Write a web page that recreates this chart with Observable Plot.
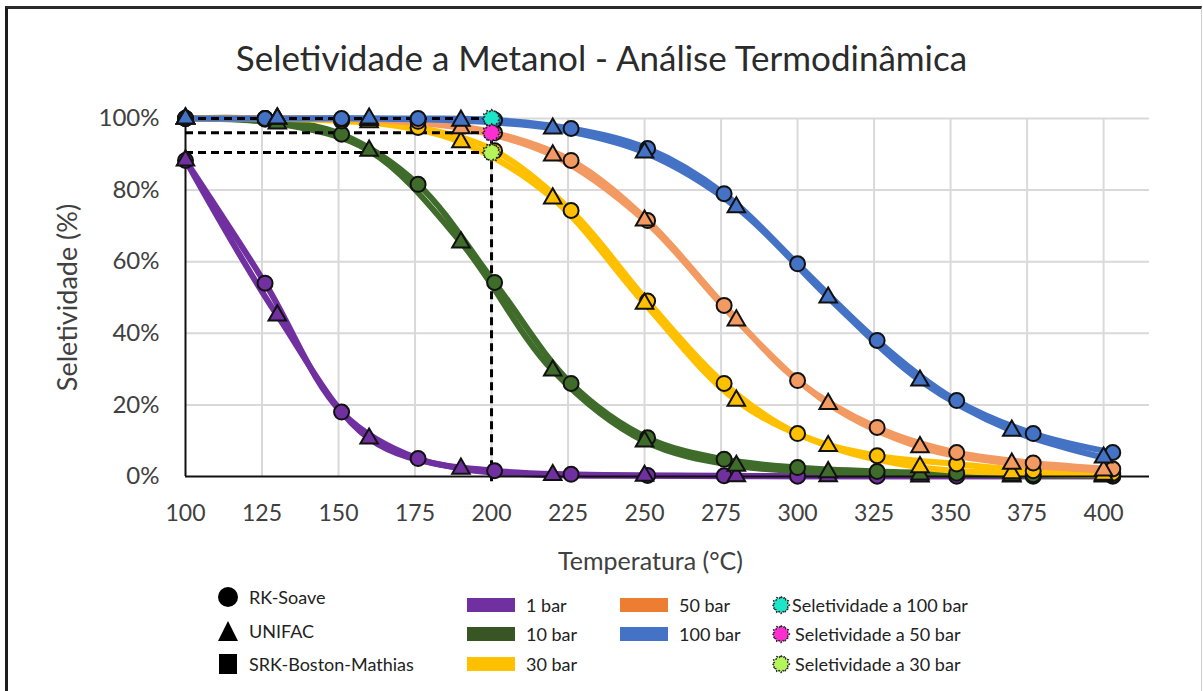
<!DOCTYPE html>
<html>
<head>
<meta charset="utf-8">
<script src="https://cdn.jsdelivr.net/npm/d3@7"></script>
<script src="https://cdn.jsdelivr.net/npm/@observablehq/plot@0.6"></script>
<style>
  body { margin: 0; background: #fff; font-family: Lato, "Open Sans", sans-serif; }
  #wrap { position: relative; width: 1203px; height: 691px; overflow: hidden; background: #fff; }
  #frame { position: absolute; left: 5px; top: 6px; width: 1193px; height: 700px;
           border-left: 3px solid #1c1c1c; border-top: 3px solid #2a2a2a; border-right: 1px solid #cfcfcf;
           pointer-events: none; }
  #title { height: 100px; box-sizing: border-box; padding-top: 14px; display: flex; align-items: center;
           justify-content: center; font-size: 35px; color: #2b2b2b; }
  #chart svg { display: block; }
  #legend { position: relative; height: 111px; font-size: 18px; color: #222; }
  .li { position: absolute; display: flex; align-items: center; height: 24px; }
  .li svg { display: block; }
</style>
</head>
<body>
<div id="wrap">
  <div id="title">Seletividade a Metanol - Análise Termodinâmica</div>
  <div id="chart"></div>
  <div id="legend"></div>
  <div id="frame"></div>
</div>
<script>
// ---------- data ----------
const pressures = ["1 bar", "10 bar", "30 bar", "50 bar", "100 bar"];
const lineColors = ["#7030A0", "#3F6B2B", "#FFC000", "#F29A62", "#4472C4"];
const legendColors = ["#7030A0", "#375623", "#FFC000", "#ED7D31", "#4472C4"];

// RK-Soave (circles)
const tempRK = [100, 126, 151, 176, 201, 226, 251, 276, 300, 326, 352, 377, 403];
const rk1   = [88.3, 54, 18, 5, 1.6, 0.6, 0.3, 0.2, 0.1, 0.1, 0.1, 0.1, 0.1];
const rk10  = [100, 99.8, 95.6, 81.6, 54.2, 26, 10.8, 4.8, 2.5, 1.4, 0.9, 0.5, 0.3];
const rk30  = [100, 100, 99.3, 97.5, 91, 74.3, 49, 26, 12, 5.8, 3.5, 1.6, 0.9];
const rk50  = [100, 100, 99.8, 99.2, 96, 88.3, 71.5, 47.8, 26.8, 13.7, 6.7, 3.8, 2.1];
const rk100 = [100, 100, 100, 100, 99.6, 97.2, 91.6, 79, 59.4, 38, 21.2, 12, 6.7];

// UNIFAC (triangles)
const tempUNI = [100, 130, 160, 190, 220, 250, 280, 310, 340, 370, 400];
const uni1   = [88.3, 45, 10.6, 2.2, 0.4, 0.2, 0.1, 0.1, 0.05, 0.05, 0.05];
const uni10  = [100, 98.6, 91, 65.4, 29.6, 9.8, 3, 1.2, 0.6, 0.3, 0.2];
const uni30  = [100, 100, 99, 93.4, 77.7, 48.3, 21.2, 8.5, 2.6, 0.9, 0.5];
const uni50  = [100, 100, 99.6, 97.3, 89.7, 71.5, 43.6, 20.3, 8.2, 3.6, 1.7];
const uni100 = [100, 100, 100, 99.4, 97.2, 90.5, 75.2, 50, 26.8, 12.8, 5.3];

// selectivity at 200 °C
const selTemp = 200;
const selLabels = ["Seletividade a 100 bar", "Seletividade a 50 bar", "Seletividade a 30 bar"];
const selValues = [100, 96, 90.5];
const selColors = ["#1DE5C8", "#FF2ED0", "#B4F55A"];

const xTicks = [100, 125, 150, 175, 200, 225, 250, 275, 300, 325, 350, 375, 400];
const yTicks = [0, 20, 40, 60, 80, 100];

// ---------- build rows ----------
const rkSeries = [rk1, rk10, rk30, rk50, rk100];
const uniSeries = [uni1, uni10, uni30, uni50, uni100];
const rkRows = [], uniRows = [];
pressures.forEach((p, i) => {
  tempRK.forEach((t, j) => rkRows.push({p, T: t, S: rkSeries[i][j], model: "RK-Soave"}));
  tempUNI.forEach((t, j) => uniRows.push({p, T: t, S: uniSeries[i][j], model: "UNIFAC"}));
});
const selRows = selLabels.map((l, i) => ({label: l, T: selTemp, S: selValues[i], c: selColors[i]}));

// starburst symbol
const starburst = {
  draw(ctx, size) {
    const r = Math.sqrt(size / Math.PI);
    const n = 12, ri = r * 0.8;
    for (let i = 0; i < 2 * n; i++) {
      const a = i * Math.PI / n;
      const rr = i % 2 ? ri : r;
      const x = rr * Math.sin(a), y = -rr * Math.cos(a);
      if (i === 0) ctx.moveTo(x, y); else ctx.lineTo(x, y);
    }
    ctx.closePath();
  }
};

const colorScale = {domain: pressures, range: lineColors};

const chart = Plot.plot({
  width: 1203,
  height: 480,
  marginTop: 18,
  marginBottom: 104,
  marginLeft: 185,
  marginRight: 54,
  style: {fontFamily: "Lato, 'Open Sans', sans-serif", fontSize: "23px", color: "#404040", background: "transparent"},
  x: {domain: [100, 415]},
  y: {domain: [0, 100]},
  color: colorScale,
  marks: [
    Plot.gridX(xTicks.filter(d => d > 100), {stroke: "#d9d9d9", strokeOpacity: 1, strokeWidth: 2, y1: 0, y2: 100}),
    Plot.gridY(yTicks.filter(d => d > 0), {stroke: "#d9d9d9", strokeOpacity: 1, strokeWidth: 2}),
    Plot.axisX({ticks: xTicks, tickSize: 0, tickPadding: 28, label: null, fontSize: 23, fill: "#404040"}),
    Plot.axisY({ticks: yTicks, tickSize: 0, tickPadding: 26, tickFormat: d => d + "%", label: null, fontSize: 24, fill: "#404040"}),
    Plot.text(["Temperatura (°C)"], {text: d => d, frameAnchor: "bottom", lineAnchor: "middle", dy: 85, dx: -17, fontSize: 25, fill: "#404040"}),
    Plot.text(["Seletividade (%)"], {text: d => d, frameAnchor: "left", textAnchor: "middle", lineAnchor: "middle", rotate: -90, dx: -117, fontSize: 27, fill: "#404040"}),
    Plot.lineY(rkRows, {x: "T", y: "S", z: "p", stroke: "p", strokeWidth: 6, curve: "catmull-rom"}),
    Plot.lineY(uniRows, {x: "T", y: "S", z: "p", stroke: "p", strokeWidth: 6, curve: "catmull-rom"}),
    Plot.ruleY([0], {stroke: "#111", strokeWidth: 2}),
    Plot.ruleX([100], {y1: 0, y2: 100, stroke: "#111", strokeWidth: 2}),
    Plot.ruleY(selRows, {y: "S", x1: 100, x2: selTemp, stroke: "#000", strokeWidth: 3, strokeDasharray: "8,5"}),
    Plot.ruleX([selTemp], {y1: -1.5, y2: 100, stroke: "#000", strokeWidth: 3, strokeDasharray: "8,5"}),
    Plot.dot(rkRows, {x: "T", y: "S", fill: "p", stroke: "#111", strokeWidth: 2, r: 7.5, symbol: "circle"}),
    Plot.dot(uniRows, {x: "T", y: "S", fill: "p", stroke: "#111", strokeWidth: 2, r: 6.5, symbol: "triangle"}),
    Plot.dot(selRows, {x: "T", y: "S", fill: "c", stroke: "#222", strokeWidth: 1.5, strokeDasharray: "2,1", r: 9, symbol: starburst})
  ]
});
document.getElementById("chart").appendChild(chart);

// ---------- legend ----------
const legend = document.getElementById("legend");
function item(x, y, svgHtml, label, gap) {
  const d = document.createElement("div");
  d.className = "li";
  d.style.left = x + "px";
  d.style.top = (y - 12) + "px";
  d.innerHTML = svgHtml + `<span style="margin-left:${gap}px">${label}</span>`;
  legend.appendChild(d);
}
const top0 = 580;
const shapeSvg = {
  circle: `<svg width="22" height="22"><circle cx="11" cy="11" r="10" fill="#000"/></svg>`,
  triangle: `<svg width="22" height="22"><path d="M11,1 L21,21 L1,21 Z" fill="#000"/></svg>`,
  square: `<svg width="22" height="22"><rect x="2" y="1" width="18" height="20" fill="#000"/></svg>`
};
item(217, 597 - top0, shapeSvg.circle, "RK-Soave", 10);
item(217, 631 - top0, shapeSvg.triangle, "UNIFAC", 10);
item(217, 664 - top0, shapeSvg.square, "SRK-Boston-Mathias", 10);

const swPos = [[467, 605], [467, 634], [467, 664], [620, 605], [620, 634]];
pressures.forEach((p, i) => {
  const [x, y] = swPos[i];
  item(x, y - top0, `<svg width="48" height="16"><rect x="0" y="1" width="48" height="14" fill="${legendColors[i]}"/></svg>`, p, 11);
});

function starPath(cx, cy, r) {
  const n = 12, ri = r * 0.8; let s = "";
  for (let i = 0; i < 2 * n; i++) {
    const a = i * Math.PI / n, rr = i % 2 ? ri : r;
    s += (i ? "L" : "M") + (cx + rr * Math.sin(a)).toFixed(2) + "," + (cy - rr * Math.cos(a)).toFixed(2);
  }
  return s + "Z";
}
const selLegY = [605, 634, 664];
selLabels.forEach((l, i) => {
  item(771, selLegY[i] - top0,
    `<svg width="20" height="20"><path d="${starPath(10, 10, 8.5)}" fill="${selColors[i]}" stroke="#222" stroke-width="1.3" stroke-dasharray="2,1"/></svg>`,
    l, i === 0 ? 1 : 4);
});
</script>
</body>
</html>
